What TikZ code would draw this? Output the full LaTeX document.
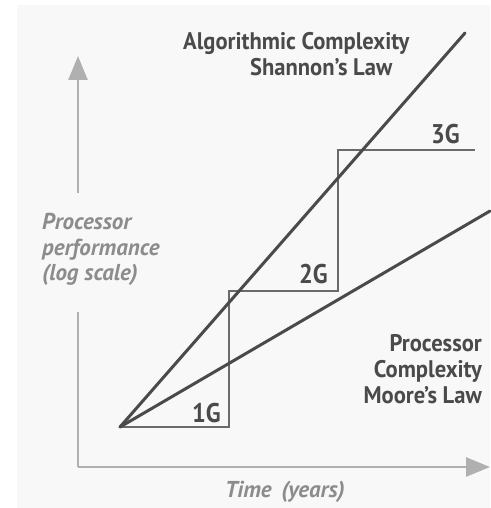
\documentclass[tikz,border=0pt]{standalone}
\usepackage{fontspec}
\setmainfont{PT Sans}
\newfontfamily\cond{PT Sans}[FakeStretch=0.94]
\newfontfamily\condb{PT Sans}[FakeStretch=0.9]
\usetikzlibrary{arrows.meta}
\definecolor{panel}{HTML}{F8F8F8}
\definecolor{ink}{HTML}{4A4A4A}
\definecolor{stepc}{HTML}{6A6A6A}
\definecolor{axisc}{HTML}{B0B0B0}
\definecolor{labc}{HTML}{8C8C8C}
\tikzset{
  trend/.style={draw=ink, line width=3pt, line cap=round},
  stair/.style={draw=stepc, line width=1.6pt},
  axisline/.style={draw=axisc, line width=2.6pt, -{Triangle[length=24pt,width=19pt]}},
  boldlab/.style={inner sep=0pt, text=ink, font=\cond\bfseries\fontsize{24}{28}\selectfont},
  itlab/.style={inner sep=0pt, text=labc, font=\bfseries\itshape\fontsize{23}{28}\selectfont},
  steplab/.style={inner sep=0pt, text=ink, font=\condb\bfseries\fontsize{27}{30}\selectfont}
}
\begin{document}
\begin{tikzpicture}[x=1pt,y=-1pt]
\useasboundingbox (0,0) rectangle (490,508);
\fill[white] (0,0) rectangle (490,508);
\fill[panel] (17,5) rectangle (490,508);
% coordinates
\coordinate (O) at (120,427);
\coordinate (A) at (465,33);
\coordinate (B) at (490,211);
\coordinate (s1) at (229,427);
\coordinate (s2) at (229,291);
\coordinate (s3) at (338,291);
\coordinate (s4) at (338,150);
\coordinate (s5) at (475,150);
\coordinate (vb) at (78,193);
\coordinate (vt) at (78,56);
\coordinate (hb) at (78,312);
\coordinate (hc) at (78,467);
\coordinate (ht) at (490,467);
% axes
\draw[axisline] (vb) -- (vt);
\draw[axisc, line width=2.6pt] (hb) -- (hc);
\draw[axisline] (hc) -- (ht);
% stairs
\draw[stair] (O) -- (s1) -- (s2) -- (s3) -- (s4) -- (s5);
% trend lines
\draw[trend] (O) -- (A);
\draw[trend] (O) -- (B);
% labels
\node[steplab, anchor=base west] (g1) at (192,422) {1G};
\node[steplab, anchor=base west] (g2) at (299,283) {2G};
\node[steplab, anchor=base west] (g3) at (431,143) {3G};
\node[boldlab, anchor=base west] (alg) at (183,50) {Algorithmic Complexity};
\node[boldlab, anchor=base west] (sha) at (250,76) {Shannon’s Law};
\node[itlab, anchor=base west] (pp) at (42,229) {Processor};
\node[itlab, anchor=base west] (pf) at (42,255) {performance};
\node[itlab, anchor=base west] (ls) at (42,280) {(log scale)};
\node[boldlab, anchor=base east] (pc1) at (482,351) {Processor};
\node[boldlab, anchor=base east] (pc2) at (482,377) {Complexity};
\node[boldlab, anchor=base east] (pc3) at (482,403) {Moore’s Law};
\node[itlab, anchor=base] (tm) at (285,497) {Time\,\ (years)};
\end{tikzpicture}
\end{document}
